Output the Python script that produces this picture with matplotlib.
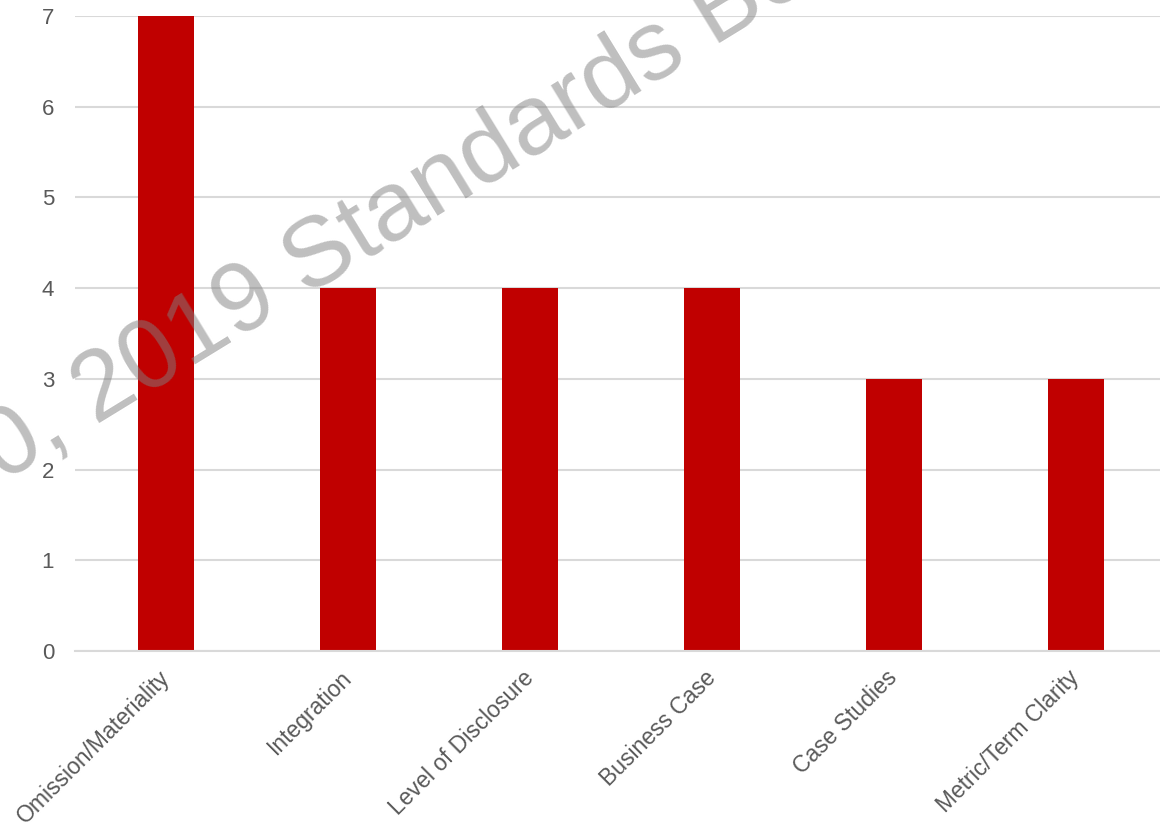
import matplotlib.pyplot as plt
import numpy as np

plt.rcParams['font.family'] = ['Liberation Sans', 'DejaVu Sans']

categories = ['Omission/Materiality', 'Integration', 'Level of Disclosure',
              'Business Case', 'Case Studies', 'Metric/Term Clarity']
counts = [7, 4, 4, 4, 3, 3]
yticks = [0, 1, 2, 3, 4, 5, 6, 7]

fig = plt.figure(figsize=(11.6, 8.32), dpi=100)
ax = fig.add_axes([75/1160, 1 - 651/832, 1092/1160, 635/832])

x = np.arange(len(categories))
ax.bar(x, counts, width=0.313, color='#c00000', zorder=2)

ax.set_xlim(-0.5, len(categories) - 0.5)
ax.set_ylim(0, 7)
ax.set_yticks(yticks)
ax.yaxis.grid(True, color='#d9d9d9', linewidth=1.5, zorder=0)
ax.set_axisbelow(True)
for s in ['top', 'right', 'left']:
    ax.spines[s].set_visible(False)
ax.spines['bottom'].set_color('#d9d9d9')
ax.spines['bottom'].set_linewidth(1.5)
ax.tick_params(axis='both', length=0, colors='#595959')
ax.tick_params(axis='y', pad=15, labelsize=16)

ax.set_xticks(x)
ax.set_xticklabels(categories, rotation=45, ha='right', va='center',
                   rotation_mode='anchor')
ax.tick_params(axis='x', pad=17, labelsize=16.5)

# watermark across the plot
fig.text(-139/1160, 1 - 568/832, '2020, 2019 Standards Board', fontsize=71,
         color='#808080', alpha=0.5, rotation=31.5, rotation_mode='anchor',
         ha='left', va='baseline', zorder=5)

fig.savefig('out.png', dpi=100)
